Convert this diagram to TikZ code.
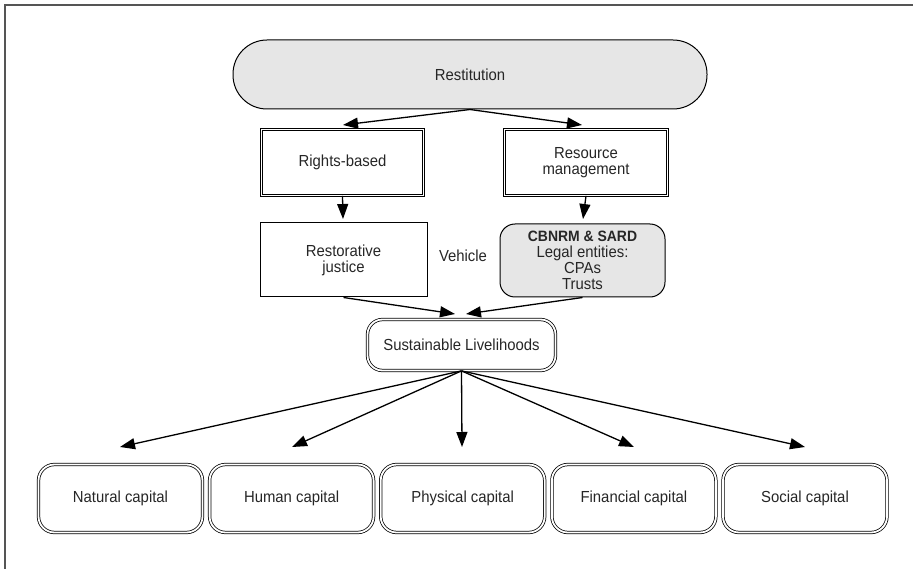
\documentclass[tikz,border=0pt]{standalone}
\usepackage{fontspec}
\setmainfont[FakeStretch=0.93]{Liberation Sans}
\usetikzlibrary{arrows.meta}
\definecolor{boxgray}{HTML}{E6E6E6}
\definecolor{framegray}{HTML}{555555}
\begin{document}
\begin{tikzpicture}[x=1pt,y=-1pt,
  lbl/.style={font=\fontsize{16}{16}\selectfont, align=center, inner sep=0pt, text=black!85},
  sbox/.style={lbl, draw, line width=1pt},
  dbox/.style={lbl, draw, line width=0.75pt, double=white, double distance=1.8pt},
  arr/.style={line width=1.3pt, -{Triangle[length=15pt,width=11pt]}}]
\useasboundingbox (0,0) rectangle (913,569);
\draw[framegray, line width=1.3pt] (5,569) -- (5,5) -- (913,5);

\node[lbl, draw, line width=1pt, fill=boxgray, rounded corners=34pt,
      minimum width=474pt, minimum height=69pt] (rest) at (470,74.5) {Restitution};

\node[dbox, minimum width=162pt, minimum height=66pt] (rb) at (342.5,162.5) {Rights-based};
\node[dbox, minimum width=163pt, minimum height=66pt] (rm) at (586,162.5) {Resource\\management};

\node[sbox, minimum width=167pt, minimum height=74pt] (rj) at (343.5,260) {Restorative\\justice};
\node[sbox, fill=boxgray, rounded corners=15pt, minimum width=165pt, minimum height=73pt] (cb) at (582.5,260.5)
  {{\bfseries\fontsize{15}{16}\selectfont CBNRM \& SARD}\\Legal entities:\\CPAs\\Trusts};
\node[lbl] (veh) at (463,256) {Vehicle};

\node[dbox, rounded corners=15pt, minimum width=188pt, minimum height=51pt] (sl) at (461.5,345) {Sustainable Livelihoods};

\node[dbox, rounded corners=16pt, minimum width=164pt, minimum height=68pt] (nat) at (120.5,498.5) {Natural capital};
\node[dbox, rounded corners=16pt, minimum width=164pt, minimum height=68pt] (hum) at (291.6,498.5) {Human capital};
\node[dbox, rounded corners=16pt, minimum width=164pt, minimum height=68pt] (phy) at (462.7,498.5) {Physical capital};
\node[dbox, rounded corners=16pt, minimum width=164pt, minimum height=68pt] (fin) at (633.9,498.5) {Financial capital};
\node[dbox, rounded corners=16pt, minimum width=164pt, minimum height=68pt] (soc) at (805,498.5) {Social capital};

\coordinate (trb) at (343,125);
\coordinate (trm) at (582,125);
\coordinate (drb) at (343,219);
\coordinate (drm) at (583,219);
\coordinate (tl) at (455,314);
\coordinate (tr) at (466,314);
\coordinate (tnat) at (120,447);
\coordinate (thum) at (292,447);
\coordinate (tphy) at (462,447);
\coordinate (tfin) at (634,447);
\coordinate (tsoc) at (805,447);

\draw[arr] (rest.south) -- (trb);
\draw[arr] (rest.south) -- (trm);
\draw[arr] (rb.south) -- (drb);
\draw[arr] (rm.south) -- (drm);
\draw[arr] (rj.south) -- (tl);
\draw[arr] (cb.south) -- (tr);
\draw[arr] (sl.south) -- (tnat);
\draw[arr] (sl.south) -- (thum);
\draw[arr] (sl.south) -- (tphy);
\draw[arr] (sl.south) -- (tfin);
\draw[arr] (sl.south) -- (tsoc);
\end{tikzpicture}
\end{document}
